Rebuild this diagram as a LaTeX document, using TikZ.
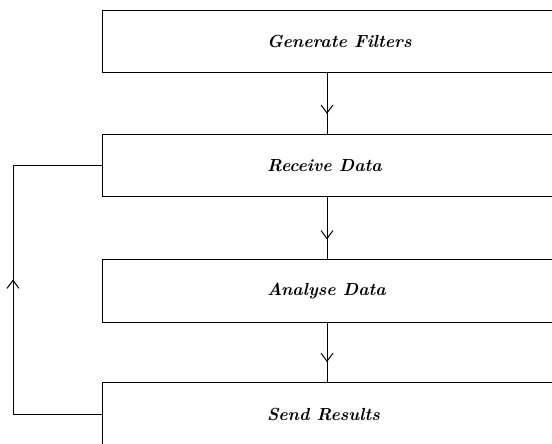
\documentclass[tikz,border=0pt]{standalone}
\usepackage{fontspec}
\usetikzlibrary{arrows.meta,decorations.markings}
\newcommand\labfont{\fontsize{17.5}{20}\selectfont\bfseries\itshape}
\begin{document}
\begin{tikzpicture}[x=1pt,y=-1pt,
  box/.style={draw,line width=1pt,minimum width=450pt,minimum height=62.5pt,inner sep=0pt,font=\labfont},
  flow/.style={line width=1pt,postaction={decorate},
    decoration={markings,mark=at position #1 with {\arrow{Straight Barb[length=8pt,width=12pt,line width=1pt]}}}},
]
\useasboundingbox (0,0) rectangle (552,444);
\clip (0,0) rectangle (552,444);
\node[box] (gen) at (327,41.5) {\makebox[120pt][l]{Generate Filters}};
\node[box] (rec) at (327,165.5) {\makebox[120pt][l]{Receive Data}};
\node[box] (ana) at (327,291) {\makebox[120pt][l]{Analyse Data}};
\node[box] (snd) at (327,414) {\makebox[120pt][l]{Send Results}};
\draw[flow=0.67] (gen.south) -- (rec.north);
\draw[flow=0.68] (rec.south) -- (ana.north);
\draw[flow=0.66] (ana.south) -- (snd.north);
\draw[flow=223pt] (snd.west) -- (13,414) -- (13,165.5) -- (rec.west);
\end{tikzpicture}
\end{document}
